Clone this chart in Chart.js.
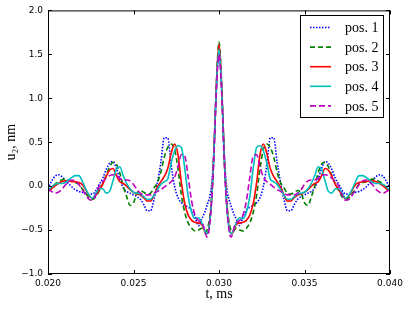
<!DOCTYPE html>
<html>
<head>
<meta charset="utf-8">
<script src="https://cdn.jsdelivr.net/npm/chart.js@4.4.1/dist/chart.umd.min.js"></script>
<style>
  html, body { margin: 0; padding: 0; background: #fff; }
  canvas { display: block; }
</style>
</head>
<body>
<canvas id="chart" width="409" height="309"></canvas>
<script>
// time grid, ms (denser round the central peak)
const times = [
  0.0200, 0.0202, 0.0204, 0.0206, 0.0208, 0.0210, 0.0212, 0.0214, 0.0216, 0.0218,
  0.0220, 0.0222, 0.0224, 0.0226, 0.0228, 0.0230, 0.0232, 0.0234, 0.0236, 0.0238,
  0.0240, 0.0242, 0.0244, 0.0246, 0.0248, 0.0250, 0.0252, 0.0254, 0.0256, 0.0258,
  0.0260, 0.0262, 0.0264, 0.0266, 0.0268, 0.0270, 0.0272, 0.0274, 0.0276, 0.0278,
  0.0280, 0.0282, 0.0284, 0.0286, 0.0288, 0.0290,
  0.0291, 0.0292, 0.0293, 0.0294, 0.0295, 0.0296, 0.0297, 0.0298, 0.0299,
  0.0300,
  0.0301, 0.0302, 0.0303, 0.0304, 0.0305, 0.0306, 0.0307, 0.0308, 0.0309,
  0.0310, 0.0312, 0.0314, 0.0316, 0.0318, 0.0320,
  0.0322, 0.0324, 0.0326, 0.0328, 0.0330, 0.0332, 0.0334, 0.0336, 0.0338, 0.0340,
  0.0342, 0.0344, 0.0346, 0.0348, 0.0350, 0.0352, 0.0354, 0.0356, 0.0358, 0.0360,
  0.0362, 0.0364, 0.0366, 0.0368, 0.0370, 0.0372, 0.0374, 0.0376, 0.0378, 0.0380,
  0.0382, 0.0384, 0.0386, 0.0388, 0.0390, 0.0392, 0.0394, 0.0396, 0.0398, 0.0400
];

// u2, nm
const pos1 = [
  -0.03, 0.05, 0.11, 0.13, 0.11, 0.07, 0.03, -0.01, -0.04, -0.06,
  -0.07, -0.08, -0.09, -0.09, -0.05, 0.02, 0.09, 0.19, 0.26, 0.28,
  0.2, 0.08, -0.02, -0.06, -0.08, -0.1, -0.12, -0.15, -0.21, -0.28,
  -0.28, -0.15, 0.04, 0.27, 0.55, 0.55, 0.25, 0.0, -0.13, -0.19,
  -0.22, -0.24, -0.27, -0.35, -0.45, -0.37,
  -0.33, -0.28, -0.22, -0.16, -0.08, 0.08, 0.42, 0.92, 1.32,
  1.52,
  1.32, 0.92, 0.42, 0.08, -0.08, -0.16, -0.22, -0.28, -0.33,
  -0.37, -0.45, -0.35, -0.27, -0.24, -0.22,
  -0.19, -0.13, 0.0, 0.25, 0.55, 0.55, 0.27, 0.04, -0.15, -0.28,
  -0.28, -0.21, -0.15, -0.12, -0.1, -0.08, -0.06, -0.02, 0.08, 0.2,
  0.28, 0.26, 0.19, 0.09, 0.02, -0.05, -0.09, -0.09, -0.08, -0.07,
  -0.06, -0.04, -0.01, 0.03, 0.07, 0.11, 0.13, 0.11, 0.05, -0.03
];
const pos2 = [
  -0.06, -0.02, 0.02, 0.05, 0.07, 0.08, 0.07, 0.05, 0.04, 0.02,
  -0.03, -0.08, -0.13, -0.15, -0.12, -0.05, 0.03, 0.12, 0.22, 0.27,
  0.25, 0.15, 0.0, -0.12, -0.22, -0.19, -0.08, -0.05, -0.07, -0.09,
  -0.08, -0.02, 0.04, 0.16, 0.33, 0.44, 0.48, 0.42, 0.2, -0.1,
  -0.3, -0.42, -0.48, -0.51, -0.5, -0.48,
  -0.5, -0.52, -0.5, -0.42, -0.28, -0.02, 0.38, 0.93, 1.4,
  1.64,
  1.4, 0.93, 0.38, -0.02, -0.28, -0.42, -0.5, -0.52, -0.5,
  -0.48, -0.5, -0.51, -0.48, -0.42, -0.3,
  -0.1, 0.2, 0.42, 0.48, 0.44, 0.33, 0.16, 0.04, -0.02, -0.08,
  -0.09, -0.07, -0.05, -0.08, -0.19, -0.22, -0.12, 0.0, 0.15, 0.25,
  0.27, 0.22, 0.12, 0.03, -0.05, -0.12, -0.15, -0.13, -0.08, -0.03,
  0.02, 0.04, 0.05, 0.07, 0.08, 0.07, 0.05, 0.02, -0.02, -0.06
];
const pos3 = [
  -0.06, -0.03, 0.0, 0.03, 0.05, 0.06, 0.06, 0.05, 0.05, 0.04,
  0.02, -0.04, -0.11, -0.14, -0.1, -0.04, 0.02, 0.11, 0.18, 0.2,
  0.12, 0.05, 0.03, 0.0, -0.04, -0.07, -0.09, -0.1, -0.13, -0.17,
  -0.17, -0.1, -0.01, 0.05, 0.11, 0.2, 0.37, 0.48, 0.36, 0.04,
  -0.2, -0.33, -0.39, -0.41, -0.42, -0.44,
  -0.48, -0.53, -0.54, -0.48, -0.32, -0.04, 0.36, 0.9, 1.37,
  1.61,
  1.37, 0.9, 0.36, -0.04, -0.32, -0.48, -0.54, -0.53, -0.48,
  -0.44, -0.42, -0.41, -0.39, -0.33, -0.2,
  0.04, 0.36, 0.48, 0.37, 0.2, 0.11, 0.05, -0.01, -0.1, -0.17,
  -0.17, -0.13, -0.1, -0.09, -0.07, -0.04, 0.0, 0.03, 0.05, 0.12,
  0.2, 0.18, 0.11, 0.02, -0.04, -0.1, -0.14, -0.11, -0.04, 0.02,
  0.04, 0.05, 0.05, 0.06, 0.06, 0.05, 0.03, 0.0, -0.03, -0.06
];
const pos4 = [
  -0.05, -0.01, 0.02, 0.03, 0.03, 0.04, 0.07, 0.1, 0.12, 0.12,
  0.06, -0.03, -0.1, -0.14, -0.08, -0.03, -0.03, -0.08, -0.06, 0.06,
  0.19, 0.22, 0.12, 0.03, -0.03, -0.07, -0.08, -0.09, -0.12, -0.15,
  -0.15, -0.1, -0.04, 0.02, 0.05, 0.08, 0.26, 0.4, 0.46, 0.44,
  0.2, -0.12, -0.3, -0.37, -0.36, -0.42,
  -0.47, -0.52, -0.54, -0.49, -0.33, -0.05, 0.34, 0.88, 1.34,
  1.56,
  1.34, 0.88, 0.34, -0.05, -0.33, -0.49, -0.54, -0.52, -0.47,
  -0.42, -0.36, -0.37, -0.3, -0.12, 0.2,
  0.44, 0.46, 0.4, 0.26, 0.08, 0.05, 0.02, -0.04, -0.1, -0.15,
  -0.15, -0.12, -0.09, -0.08, -0.07, -0.03, 0.03, 0.12, 0.22, 0.19,
  0.06, -0.06, -0.08, -0.03, -0.03, -0.08, -0.14, -0.1, -0.03, 0.06,
  0.12, 0.12, 0.1, 0.07, 0.04, 0.03, 0.03, 0.02, -0.01, -0.05
];
const pos5 = [
  -0.03, -0.06, -0.08, -0.07, -0.04, 0.01, 0.05, 0.07, 0.06, 0.02,
  -0.04, -0.1, -0.15, -0.16, -0.1, 0.0, 0.05, 0.09, 0.12, 0.13,
  0.12, 0.09, 0.07, 0.07, 0.06, 0.02, -0.04, -0.08, -0.1, -0.1,
  -0.1, -0.08, -0.06, -0.04, -0.01, 0.02, 0.05, 0.1, 0.22, 0.36,
  0.34, 0.1, -0.17, -0.33, -0.39, -0.42,
  -0.46, -0.54, -0.58, -0.52, -0.35, -0.07, 0.32, 0.85, 1.3,
  1.5,
  1.3, 0.85, 0.32, -0.07, -0.35, -0.52, -0.58, -0.54, -0.46,
  -0.42, -0.39, -0.33, -0.17, 0.1, 0.34,
  0.36, 0.22, 0.1, 0.05, 0.02, -0.01, -0.04, -0.06, -0.08, -0.1,
  -0.1, -0.1, -0.08, -0.04, 0.02, 0.06, 0.07, 0.07, 0.09, 0.12,
  0.13, 0.12, 0.09, 0.05, 0.0, -0.1, -0.16, -0.15, -0.1, -0.04,
  0.02, 0.06, 0.07, 0.05, 0.01, -0.04, -0.07, -0.08, -0.06, -0.03
];

const seriesNames = ['pos. 1', 'pos. 2', 'pos. 3', 'pos. 4', 'pos. 5'];
const seriesValues = [pos1, pos2, pos3, pos4, pos5];
const seriesColors = ['#0000ff', '#008000', '#ff0000', '#00bfbf', '#bf00bf'];
const seriesDash = [[1.5, 1.5], [5, 3], [], [], [6, 3]];

const serif = '"Liberation Serif", "Times New Roman", serif';
const sans = '"DejaVu Sans", sans-serif';

// frame, inward ticks on all four sides, legend inside the axes
const frameAndLegend = {
  id: 'frameAndLegend',
  afterDatasetsDraw(chart) {
    const { ctx, chartArea: a, scales: { x, y } } = chart;
    ctx.save();
    ctx.strokeStyle = '#000';
    ctx.lineWidth = 1;
    ctx.setLineDash([]);
    ctx.beginPath();
    x.ticks.forEach(t => {
      const px = Math.round(x.getPixelForValue(t.value)) + 0.5;
      ctx.moveTo(px, a.bottom); ctx.lineTo(px, a.bottom - 4);
      ctx.moveTo(px, a.top); ctx.lineTo(px, a.top + 4);
    });
    y.ticks.forEach(t => {
      const py = Math.round(y.getPixelForValue(t.value)) + 0.5;
      ctx.moveTo(a.left, py); ctx.lineTo(a.left + 4, py);
      ctx.moveTo(a.right, py); ctx.lineTo(a.right - 4, py);
    });
    ctx.stroke();
    ctx.strokeRect(a.left + 0.5, a.top + 0.5, a.right - a.left - 1, a.bottom - a.top - 1);

    // legend box
    const bx = 300.5, by = 15.5, bw = 83, bh = 102;
    ctx.fillStyle = '#fff';
    ctx.fillRect(bx, by, bw, bh);
    ctx.strokeRect(bx, by, bw, bh);
    ctx.font = '14px ' + serif;
    ctx.textBaseline = 'middle';
    ctx.textAlign = 'left';
    chart.data.datasets.forEach((ds, i) => {
      const yc = 27.5 + i * 19.6;
      ctx.strokeStyle = ds.borderColor;
      ctx.lineWidth = ds.borderWidth;
      ctx.setLineDash(ds.borderDash || []);
      ctx.beginPath();
      ctx.moveTo(310, yc);
      ctx.lineTo(331, yc);
      ctx.stroke();
      ctx.fillStyle = '#000';
      ctx.fillText(ds.label, 345, yc + 1);
    });
    ctx.restore();
  }
};

const datasets = seriesNames.map((name, i) => ({
  label: name,
  data: times.map((t, k) => ({ x: t, y: seriesValues[i][k] })),
  borderColor: seriesColors[i],
  borderWidth: 1.6,
  borderDash: seriesDash[i],
  pointRadius: 0,
  fill: false,
  cubicInterpolationMode: 'monotone',
  order: seriesNames.length - 1 - i
}));

new Chart(document.getElementById('chart'), {
  type: 'line',
  data: { datasets },
  options: {
    responsive: false,
    animation: false,
    devicePixelRatio: 1,
    layout: { padding: { top: 10, right: 19, left: 0, bottom: 0 } },
    plugins: { legend: { display: false }, tooltip: { enabled: false } },
    scales: {
      x: {
        type: 'linear',
        min: 0.02,
        max: 0.04,
        grid: { display: false, drawTicks: false },
        border: { display: false },
        ticks: {
          stepSize: 0.005,
          autoSkip: false,
          maxRotation: 0,
          padding: 4,
          color: '#000',
          font: { family: sans, size: 9 },
          callback: v => v.toFixed(3)
        },
        title: {
          display: true,
          text: 't, ms',
          color: '#000',
          font: { family: serif, size: 14 },
          padding: { top: 0, bottom: 6 }
        },
        afterFit: s => { s.height = 35; }
      },
      y: {
        min: -1,
        max: 2,
        grid: { display: false, drawTicks: false },
        border: { display: false },
        ticks: {
          stepSize: 0.5,
          autoSkip: false,
          padding: 5,
          color: '#000',
          font: { family: sans, size: 9 },
          callback: v => (v < 0 ? '\u2212' : '') + Math.abs(v).toFixed(1)
        },
        title: {
          display: true,
          text: 'u\u2082, nm',
          color: '#000',
          font: { family: serif, size: 14 },
          padding: { top: 3, bottom: 0 }
        },
        afterFit: s => { s.width = 48; }
      }
    }
  },
  plugins: [frameAndLegend]
});
</script>
</body>
</html>
